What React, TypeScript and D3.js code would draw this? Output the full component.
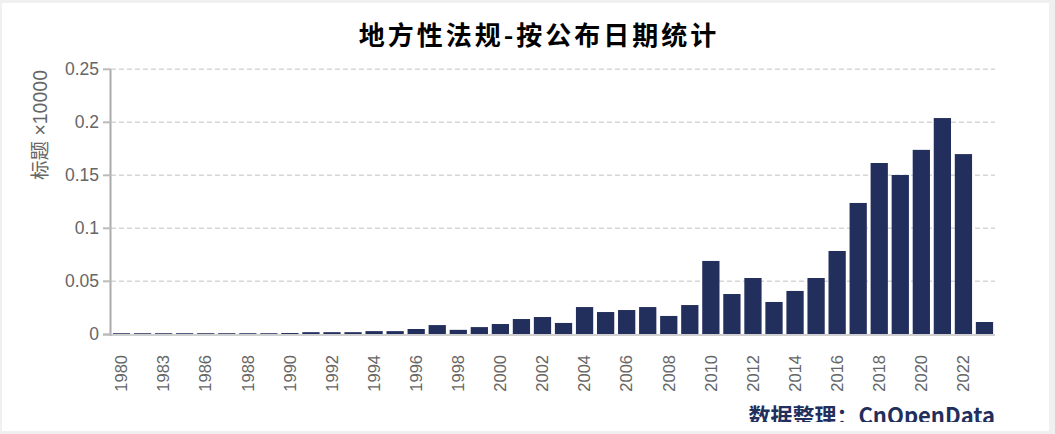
import * as d3 from "d3";

// 公布年份（1980年代部分年份缺失）
const years = [
  "1980", "1982", "1983", "1985", "1986", "1987", "1988", "1989", "1990", "1991",
  "1992", "1993", "1994", "1995", "1996", "1997", "1998", "1999", "2000", "2001",
  "2002", "2003", "2004", "2005", "2006", "2007", "2008", "2009", "2010", "2011",
  "2012", "2013", "2014", "2015", "2016", "2017", "2018", "2019", "2020", "2021",
  "2022", "2023",
];

// 数量（条）
const counts = [
  10, 10, 10, 10, 10, 10, 10, 10, 12, 20,
  20, 20, 30, 30, 50, 87, 42, 68, 97, 144,
  163, 107, 257, 210, 229, 257, 173, 276, 692, 380,
  531, 305, 409, 531, 786, 1239, 1616, 1503, 1740, 2040,
  1700, 116,
];

const yTicks = [0, 500, 1000, 1500, 2000, 2500];

const W = 1055;
const H = 434;
const left = 111;
const right = 995;
const top = 69.3;
const bottom = 334.3;
const barColor = "#222e5c";
const font = "'Liberation Sans', 'Noto Sans CJK SC', sans-serif";

export default function App() {
  const x = d3
    .scaleBand()
    .domain(years)
    .range([left, right])
    .paddingInner(0.18)
    .paddingOuter(0.09);
  const y = d3.scaleLinear().domain([0, 2500]).range([bottom, top]);
  const fmt = (v: number) => String(+(v / 10000).toFixed(2));

  return (
    <svg
      width={W}
      height={H}
      style={{ position: "fixed", left: 0, top: 0 }}
      fontFamily={font}
    >
      <defs>
        <clipPath id="clip">
          <rect x={0} y={0} width={W} height={422} />
        </clipPath>
      </defs>
      <rect width={W} height={H} fill="#f0f0f0" />
      <rect x={2} y={3} width={1047} height={428} fill="#fff" />

      <text
        x={539}
        y={33.5}
        textAnchor="middle"
        dominantBaseline="central"
        fontFamily="'Noto Sans CJK SC', sans-serif"
        fontWeight="bold"
        fontSize={26}
        letterSpacing={3}
        fill="#000"
      >
        地方性法规-按公布日期统计
      </text>

      {/* 网格线 */}
      {yTicks
        .filter((t) => t > 0)
        .map((t) => (
          <line
            key={t}
            x1={left}
            x2={right}
            y1={y(t)}
            y2={y(t)}
            stroke="#d6d6d6"
            strokeWidth={1.6}
            strokeDasharray="5,3"
          />
        ))}

      {/* 柱 */}
      {counts.map((c, i) => (
        <rect
          key={years[i]}
          x={x(years[i])}
          y={y(c)}
          width={x.bandwidth()}
          height={bottom - y(c)}
          fill={barColor}
        />
      ))}

      {/* x 轴 */}
      <line x1={103} x2={right} y1={bottom + 0.8} y2={bottom + 0.8} stroke="#d0d0d0" strokeWidth={2} />
      {years.map((yr, i) =>
        i % 2 === 0 ? (
          <text
            key={yr}
            transform={`translate(${x(yr)! + x.bandwidth() / 2},355) rotate(-90)`}
            textAnchor="end"
            dy="0.35em"
            fontSize={16.5}
            fill="#666"
          >
            {yr}
          </text>
        ) : null
      )}

      {/* y 轴 */}
      <line x1={left - 0.5} x2={left - 0.5} y1={top} y2={bottom + 1.5} stroke="#aaa" strokeWidth={2} />
      {yTicks.map((t) => (
        <g key={t}>
          <line x1={103} x2={left} y1={y(t)} y2={y(t)} stroke="#bbb" strokeWidth={2} />
          <text
            x={99}
            y={y(t)}
            textAnchor="end"
            dominantBaseline="central"
            fontSize={17.5}
            fill="#666"
          >
            {fmt(t)}
          </text>
        </g>
      ))}
      <text
        transform="translate(40,70) rotate(-90)"
        textAnchor="end"
        dominantBaseline="central"
        fontSize={19.5}
        fill="#666"
      >
        标题 ×10000
      </text>

      <text
        x={right}
        y={424}
        textAnchor="end"
        fontFamily="'Noto Sans CJK SC', sans-serif"
        fontWeight="bold"
        fontSize={22}
        fill={barColor}
        clipPath="url(#clip)"
      >
        数据整理：CnOpenData
      </text>
    </svg>
  );
}
